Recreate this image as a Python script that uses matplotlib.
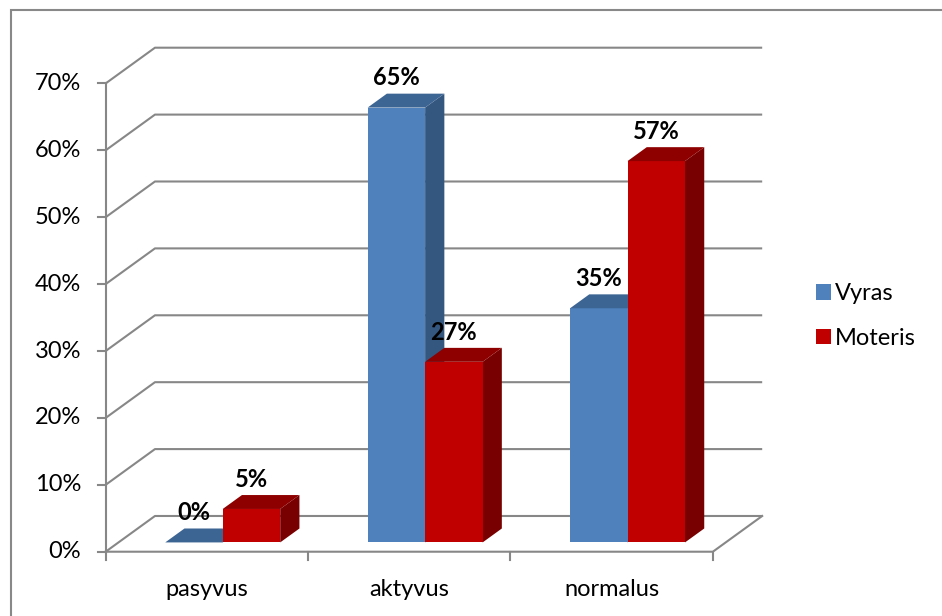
import matplotlib.pyplot as plt
from matplotlib.patches import Polygon, Rectangle, Patch

plt.rcParams['font.family'] = ['Lato', 'DejaVu Sans']

categories = ["pasyvus", "aktyvus", "normalus"]
series_names = ["Vyras", "Moteris"]
vyras = [0, 65, 35]
moteris = [5, 27, 57]
y_ticks = [0, 10, 20, 30, 40, 50, 60, 70]
tick_labels = [f"{t}%" for t in y_ticks]

# face colours: front, top, side
palette = {
    "Vyras": ("#4f81bd", "#3d6594", "#34577f"),
    "Moteris": ("#c00000", "#8e0000", "#780000"),
}

# oblique projection: depth d in [0, 1] shifts right and up
DX = 0.2436   # category units per full depth
DV = 5.34     # percent units per full depth
GRID = "#878787"
FS = 17


def proj(c, v, d=0.0):
    return (c + d * DX, v + d * DV)


fig = plt.figure(figsize=(9.42, 6.16), dpi=100)
ax = fig.add_axes([0, 0, 1, 1])
ax.set_xlim(-0.522, 4.132)
ax.set_ylim(-9.61, 82.47)
ax.axis("off")

ncat = len(categories)

# back wall gridlines with their diagonal run-ins
for t in y_ticks:
    pts = [proj(0, t, 0), proj(0, t, 1), proj(ncat, t, 1)]
    ax.plot([p[0] for p in pts], [p[1] for p in pts], color=GRID, lw=1.5,
            solid_capstyle="butt", zorder=1)

# floor outline
floor = [proj(0, 0, 0), proj(ncat, 0, 0), proj(ncat, 0, 1)]
ax.plot([p[0] for p in floor], [p[1] for p in floor], color=GRID, lw=1.5, zorder=1)

# value axis with ticks and labels
ax.plot([0, 0], [0, y_ticks[-1]], color=GRID, lw=1.5, zorder=1)
for t, lab in zip(y_ticks, tick_labels):
    ax.plot([-0.04, 0], [t, t], color=GRID, lw=1.5, zorder=1)
    ax.text(-0.12, t, lab, ha="right", va="center", fontsize=FS, color="#000000")

# category ticks and labels
for i in range(ncat + 1):
    ax.plot([i, i], [0, -1.2], color=GRID, lw=1.5, zorder=1)
for i, cat in enumerate(categories):
    ax.text(i + 0.5, -5.6, cat, ha="center", va="center", fontsize=FS, color="#000000")

# 3D-looking bars
d0, d1 = 0.26, 0.65
w = 0.284
center = 0.515
for i in range(ncat):
    for j, (name, vals) in enumerate(zip(series_names, [vyras, moteris])):
        v = vals[i]
        front_col, top_col, side_col = palette[name]
        x0 = i + center - w + j * w
        x1 = x0 + w
        front = [proj(x0, 0, d0), proj(x1, 0, d0), proj(x1, v, d0), proj(x0, v, d0)]
        top = [proj(x0, v, d0), proj(x1, v, d0), proj(x1, v, d1), proj(x0, v, d1)]
        side = [proj(x1, 0, d0), proj(x1, 0, d1), proj(x1, v, d1), proj(x1, v, d0)]
        z = 3 + i * 2 + j
        if v > 0:
            ax.add_patch(Polygon(side, closed=True, fc=side_col, ec="none", zorder=z))
            ax.add_patch(Polygon(front, closed=True, fc=front_col, ec="none", zorder=z))
        ax.add_patch(Polygon(top, closed=True, fc=top_col, ec="none", zorder=z))

        lx, ly = proj((x0 + x1) / 2, v, d1)
        ax.annotate(f"{v}%", xy=(lx - DX * (d1 - d0), ly), xytext=(0, 3),
                    textcoords="offset points", ha="center", va="bottom",
                    fontsize=FS, fontweight="bold", color="#000000", zorder=20)

# legend
handles = [Patch(fc=palette[n][0], ec="none") for n in series_names]
fig.legend(handles, series_names, loc="center left", bbox_to_anchor=(0.856, 0.487),
           frameon=False, fontsize=FS, handlelength=0.64, handleheight=0.64,
           handletextpad=0.15, labelspacing=1.0, borderaxespad=0)

# chart area border (runs past the right and bottom edges)
fig.add_artist(Rectangle((11 / 942, -0.1), 1.2, (616 - 9.5) / 616 + 0.1,
                         transform=fig.transFigure, fill=False, ec="#888888", lw=1.5))

fig.savefig("out.png", dpi=100)
